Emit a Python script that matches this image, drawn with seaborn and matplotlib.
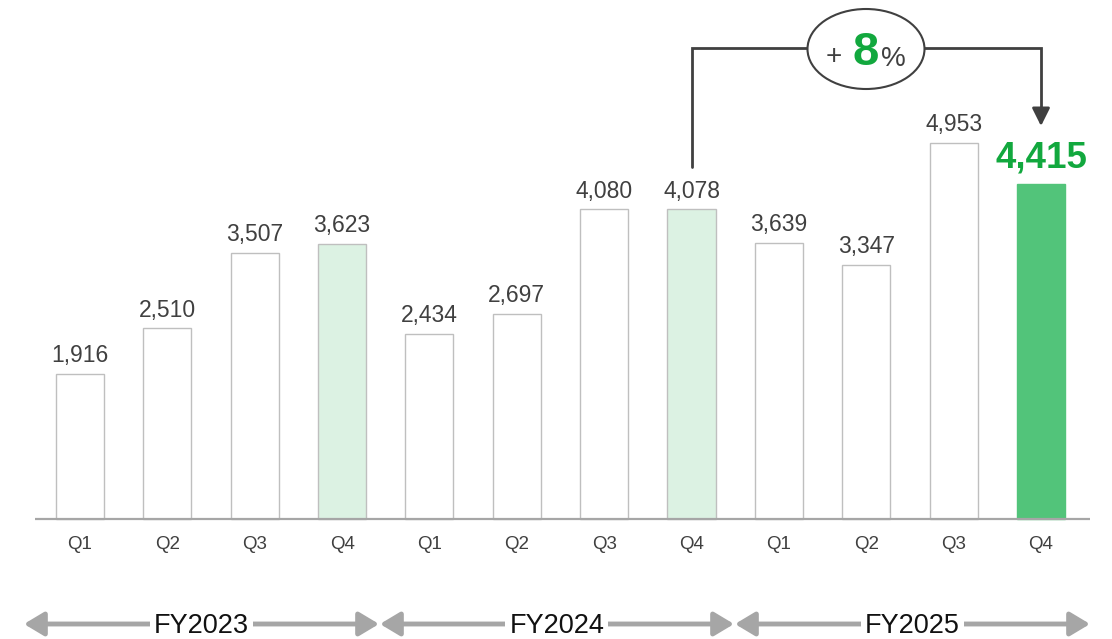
import matplotlib
matplotlib.use("Agg")
import matplotlib.pyplot as plt
from matplotlib.patches import Ellipse
import seaborn as sns
import pandas as pd

sns.set_theme(style="white")
plt.rcParams['font.family'] = ['Liberation Sans', 'DejaVu Sans']

quarters = ["Q1", "Q2", "Q3", "Q4", "Q1", "Q2", "Q3", "Q4", "Q1", "Q2", "Q3", "Q4"]
values = [1916, 2510, 3507, 3623, 2434, 2697, 4080, 4078, 3639, 3347, 4953, 4415]
fiscal_years = ["FY2023", "FY2024", "FY2025"]
growth_label = "8"

# styles
WHITE = "#ffffff"
LIGHT_GREEN = "#dcf2e3"
GREEN = "#52c47a"
TEXT_GREEN = "#12a83e"
EDGE = "#bfbfbf"
DARK = "#404040"
ARROW_GRAY = "#a6a6a6"

fills = [WHITE, WHITE, WHITE, LIGHT_GREEN,
         WHITE, WHITE, WHITE, LIGHT_GREEN,
         WHITE, WHITE, WHITE, GREEN]

df = pd.DataFrame({"pos": [str(i) for i in range(len(values))], "value": values})

W, H = 1112, 639
fig = plt.figure(figsize=(W / 100, H / 100), dpi=100)
ax = fig.add_axes([0, 0, 1, 1])

sns.barplot(data=df, x="pos", y="value", ax=ax, width=0.55,
            color="white", edgecolor=EDGE, linewidth=1.0, saturation=1)
for p, c in zip(ax.patches, fills):
    p.set_facecolor(c)
    if c == GREEN:
        p.set_edgecolor(GREEN)

# pixel mapping: bar centers at 80 + i*87.36 px, baseline at y=519 px, 0.0759 px per unit
spacing = 87.36
ppu = 0.0759
ax.set_xlim(-80 / spacing, (W - 80) / spacing)
ax.set_ylim(-(H - 519) / ppu, 519 / ppu)
ax.axis("off")

def px_x(px):
    return (px - 80) / spacing

def px_y(py):
    return (519 - py) / ppu

# baseline
ax.plot([px_x(35), px_x(1090)], [0, 0], color="#a6a6a6", lw=1.6, zorder=1, solid_capstyle="butt")

# value labels
for i, v in enumerate(values):
    if i == len(values) - 1:
        ax.annotate(f"{v:,}", (i, v), xytext=(0, 11.5), textcoords="offset points",
                    ha="center", va="baseline", fontsize=26.5, fontweight="bold", color=TEXT_GREEN)
    else:
        ax.annotate(f"{v:,}", (i, v), xytext=(0, 8.5), textcoords="offset points",
                    ha="center", va="baseline", fontsize=16.5, color=DARK)

# quarter labels
for i, q in enumerate(quarters):
    ax.text(i, px_y(549), q, ha="center", va="baseline", fontsize=13.5, color=DARK)

# fiscal year arrows
spans = [(24, 379), (380, 734), (735, 1090)]
for (a, b), fy in zip(spans, fiscal_years):
    ya = px_y(624)
    ax.annotate("", xy=(px_x(a), ya), xytext=(px_x((a + b) / 2), ya),
                arrowprops=dict(arrowstyle="-|>,head_length=1.0,head_width=0.6",
                                color=ARROW_GRAY, lw=3.5, shrinkA=0, shrinkB=0))
    ax.annotate("", xy=(px_x(b), ya), xytext=(px_x((a + b) / 2), ya),
                arrowprops=dict(arrowstyle="-|>,head_length=1.0,head_width=0.6",
                                color=ARROW_GRAY, lw=3.5, shrinkA=0, shrinkB=0))
    ax.text(px_x((a + b) / 2), px_y(633), fy, ha="center", va="baseline", fontsize=19.5,
            color="#111111", bbox=dict(facecolor="white", edgecolor="none", pad=3), zorder=5)

# growth connector
yline = px_y(48)
ax.plot([px_x(692), px_x(692), px_x(1041), px_x(1041)],
        [px_y(167), yline, yline, px_y(112)], color=DARK, lw=2, zorder=3,
        solid_joinstyle="miter")
ax.annotate("", xy=(px_x(1041), px_y(126)), xytext=(px_x(1041), px_y(108)),
            arrowprops=dict(arrowstyle="-|>,head_length=0.9,head_width=0.45",
                            color=DARK, lw=2, shrinkA=0, shrinkB=0))
ell = Ellipse((px_x(866), px_y(49)), width=117 / spacing, height=80 / ppu,
              facecolor="white", edgecolor=DARK, lw=1.5, zorder=4)
ax.add_patch(ell)
ax.text(px_x(834), px_y(64), "+", ha="center", va="baseline", fontsize=20, color=DARK, zorder=5)
ax.text(px_x(866), px_y(65), growth_label, ha="center", va="baseline", fontsize=34,
        fontweight="bold", color=TEXT_GREEN, zorder=5)
ax.text(px_x(893), px_y(66), "%", ha="center", va="baseline", fontsize=20, color=DARK, zorder=5)

fig.savefig("out.png", dpi=100, facecolor="white")
